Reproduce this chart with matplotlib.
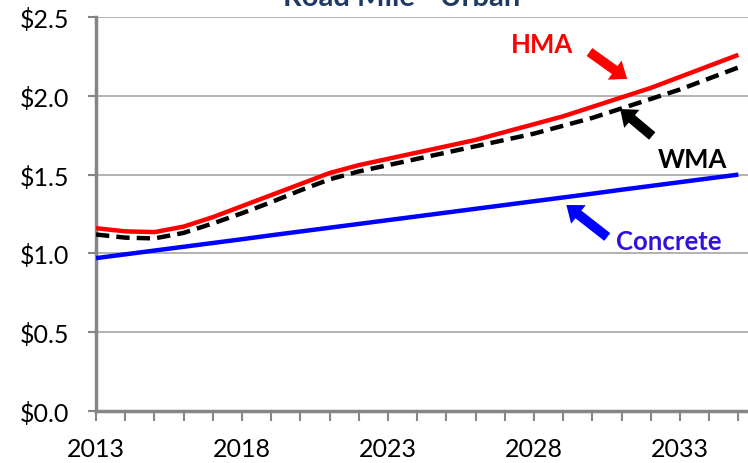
import numpy as np
import matplotlib.pyplot as plt
from matplotlib.ticker import MultipleLocator, FuncFormatter

years = list(range(2013, 2036))
hma = [1.16, 1.14, 1.135, 1.17, 1.23, 1.30, 1.37, 1.44, 1.51, 1.56, 1.60, 1.64,
       1.68, 1.72, 1.77, 1.82, 1.87, 1.93, 1.99, 2.05, 2.12, 2.19, 2.26]
wma = [1.12, 1.10, 1.095, 1.13, 1.19, 1.255, 1.325, 1.40, 1.47, 1.52, 1.56, 1.60,
       1.64, 1.68, 1.72, 1.76, 1.81, 1.86, 1.92, 1.98, 2.04, 2.11, 2.18]
concrete = [0.970, 0.994, 1.018, 1.042, 1.066, 1.090, 1.115, 1.139, 1.163, 1.187,
            1.211, 1.235, 1.259, 1.283, 1.307, 1.331, 1.355, 1.379, 1.404, 1.428,
            1.452, 1.476, 1.500]
xtick_years = [2013, 2018, 2023, 2028, 2033]

plt.rcParams['font.family'] = ['Lato', 'DejaVu Sans']

fig = plt.figure(figsize=(7.48, 4.64), dpi=100)
ax = fig.add_axes([96 / 748, 52 / 464, 652 / 748, 394 / 464])

ax.plot(years, concrete, color='#0000ff', lw=3.2, solid_capstyle='butt', zorder=3)
ax.plot(years, hma, color='#ff0000', lw=3.2, solid_capstyle='butt', zorder=3)
ax.plot(years, wma, color='black', lw=3.2, ls=(0, (3, 1.6)), zorder=4)

ax.set_xlim(2013, 2035.33)
ax.set_ylim(0, 2.5)
ax.yaxis.set_major_locator(MultipleLocator(0.5))
ax.yaxis.set_major_formatter(FuncFormatter(lambda v, p: f'${v:.1f}'))
ax.set_xticks(xtick_years)
ax.xaxis.set_minor_locator(MultipleLocator(1))
ax.grid(axis='y', color='#a6a6a6', lw=1.2)
ax.set_axisbelow(True)

for s in ['top', 'right']:
    ax.spines[s].set_visible(False)
for s in ['left', 'bottom']:
    ax.spines[s].set_color('#868686')
    ax.spines[s].set_linewidth(2.5)
ax.tick_params(axis='both', which='both', colors='#868686', width=1.5,
               labelcolor='black')
ax.tick_params(axis='x', which='major', length=7, pad=12, labelsize=18)
ax.tick_params(axis='x', which='minor', length=7)
ax.tick_params(axis='y', length=6, pad=13, labelsize=18)

arrow = dict(width=7, headwidth=17, headlength=11, lw=0)
ax.annotate('', xy=(2031.19, 2.107), xytext=(2029.9, 2.278),
            arrowprops=dict(arrow, color='#ff0000'))
ax.text(2028.29, 2.33, 'HMA', color='#ff0000', fontsize=18.5, fontweight='bold',
        ha='center', va='center')
ax.annotate('', xy=(2030.95, 1.916), xytext=(2032.05, 1.745),
            arrowprops=dict(arrow, color='black'))
ax.text(2033.42, 1.60, 'WMA', color='black', fontsize=18.5, fontweight='bold',
        ha='center', va='center')
ax.annotate('', xy=(2029.11, 1.307), xytext=(2030.51, 1.104),
            arrowprops=dict(arrow, color='#0000ff'))
ax.text(2032.63, 1.08, 'Concrete', color='#3311dd', fontsize=18.5,
        fontweight='bold', ha='center', va='center')

fig.text(402 / 748, 1.005, 'Road Mile - Urban', color='#1f3864', fontsize=21,
         fontweight='bold', ha='center', va='center')

fig.savefig('out.png', dpi=100)
